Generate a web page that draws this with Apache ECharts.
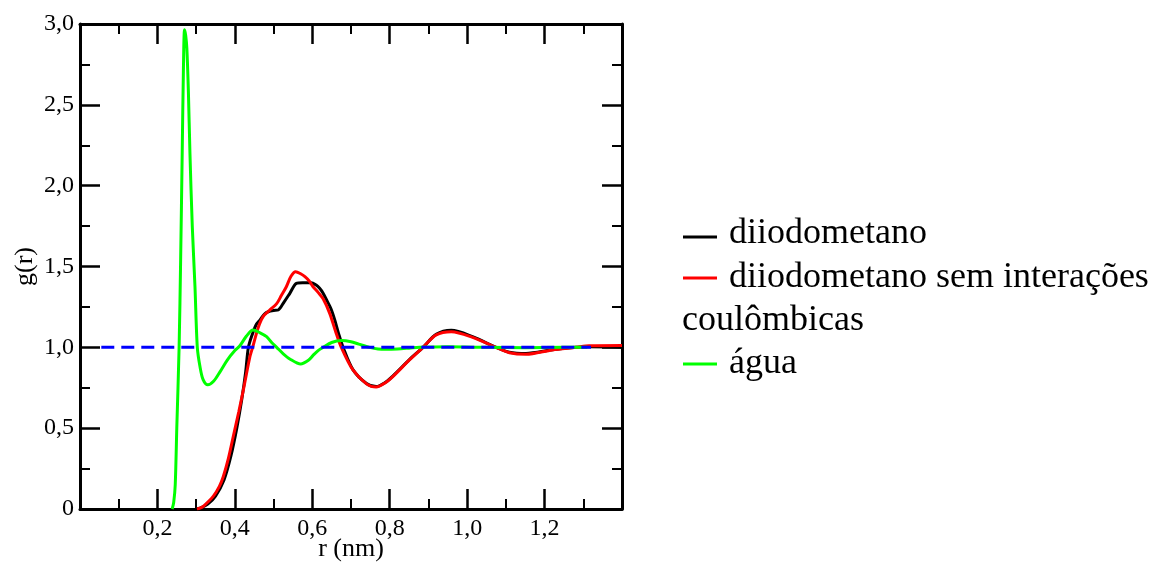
<!DOCTYPE html>
<html>
<head>
<meta charset="utf-8">
<script src="https://cdn.jsdelivr.net/npm/echarts@6/dist/echarts.min.js"></script>
<style>
html,body{margin:0;padding:0;background:#fff;}
#chart{width:1167px;height:565px;}
</style>
</head>
<body>
<div id="chart"></div>
<script>
// ---- data (r in nm, g(r)) ----
const diiodoR = [0.300, 0.310, 0.330, 0.350, 0.372, 0.390, 0.405, 0.418, 0.428, 0.435, 0.445, 0.455, 0.465, 0.476, 0.486, 0.500, 0.512, 0.527, 0.542, 0.559, 0.575, 0.597, 0.610, 0.619, 0.628, 0.637, 0.648, 0.658, 0.668, 0.679, 0.705, 0.740, 0.765, 0.790, 0.808, 0.851, 0.886, 0.920, 0.959, 1.014, 1.075, 1.109, 1.152, 1.220, 1.281, 1.315, 1.400];
const diiodoG = [0, 0.005, 0.03, 0.08, 0.18, 0.33, 0.50, 0.68, 0.85, 1.00, 1.08, 1.14, 1.17, 1.205, 1.22, 1.228, 1.231, 1.28, 1.334, 1.396, 1.40, 1.40, 1.385, 1.365, 1.335, 1.293, 1.24, 1.17, 1.085, 1.004, 0.862, 0.776, 0.757, 0.785, 0.822, 0.924, 1.00, 1.08, 1.105, 1.066, 1.00, 0.970, 0.962, 0.985, 1.00, 1.003, 1.000];

const noCoulR = [0.302, 0.310, 0.320, 0.344, 0.360, 0.370, 0.383, 0.396, 0.410, 0.422, 0.439, 0.446, 0.460, 0.473, 0.490, 0.508, 0.520, 0.533, 0.545, 0.557, 0.570, 0.581, 0.592, 0.602, 0.615, 0.628, 0.645, 0.660, 0.675, 0.705, 0.740, 0.765, 0.790, 0.808, 0.851, 0.886, 0.920, 0.959, 1.014, 1.075, 1.109, 1.152, 1.220, 1.281, 1.315, 1.400];
const noCoulG = [0, 0.005, 0.02, 0.078, 0.14, 0.20, 0.31, 0.45, 0.60, 0.737, 0.943, 1.00, 1.12, 1.19, 1.23, 1.27, 1.32, 1.375, 1.44, 1.468, 1.455, 1.437, 1.41, 1.375, 1.34, 1.30, 1.21, 1.10, 1.00, 0.860, 0.774, 0.754, 0.783, 0.819, 0.922, 1.00, 1.077, 1.097, 1.062, 1.00, 0.967, 0.957, 0.984, 1.00, 1.010, 1.012];

const waterR = [0.238, 0.242, 0.246, 0.250, 0.256, 0.260, 0.264, 0.267, 0.270, 0.273, 0.276, 0.280, 0.284, 0.290, 0.297, 0.303, 0.310, 0.318, 0.330, 0.345, 0.362, 0.380, 0.400, 0.413, 0.430, 0.447, 0.465, 0.482, 0.495, 0.508, 0.525, 0.542, 0.570, 0.590, 0.602, 0.615, 0.628, 0.650, 0.675, 0.700, 0.720, 0.748, 0.770, 0.791, 0.820, 0.850, 0.877, 0.950, 1.050, 1.150, 1.250, 1.310];
const waterG = [0, 0.04, 0.15, 0.50, 1.00, 1.55, 2.20, 2.70, 2.965, 2.93, 2.85, 2.58, 2.20, 1.75, 1.375, 1.00, 0.88, 0.80, 0.768, 0.79, 0.85, 0.92, 0.98, 1.01, 1.07, 1.107, 1.09, 1.066, 1.03, 1.00, 0.96, 0.928, 0.897, 0.92, 0.95, 0.98, 1.00, 1.03, 1.042, 1.035, 1.02, 1.00, 0.99, 0.988, 0.99, 0.995, 1.00, 1.003, 1.00, 0.998, 1.00, 1.00];

const refR = [0.055, 1.32];
const refG = [1, 1];

const legendNames = ['diiodometano', 'diiodometano sem interações', 'coulômbicas', 'água'];
const xTickLabels = ['', '0,2', '0,4', '0,6', '0,8', '1,0', '1,2', ''];
const yTickLabels = ['0', '0,5', '1,0', '1,5', '2,0', '2,5', '3,0'];

function zip(a, b) { return a.map((v, i) => [v, b[i]]); }

const FONT = 'Liberation Serif';
const chart = echarts.init(document.getElementById('chart'), null, {renderer: 'canvas'});

function frameAxis(extra) {
  return Object.assign({
    type: 'value',
    axisLine: {show: true, onZero: false, lineStyle: {color: '#000', width: 3}},
    axisTick: {show: true, inside: true, length: 20, lineStyle: {color: '#000', width: 2.5}},
    minorTick: {show: true, splitNumber: 2, length: 10, lineStyle: {color: '#000', width: 2}},
    splitLine: {show: false},
    minorSplitLine: {show: false}
  }, extra);
}

const xCommon = {min: 0, max: 1.4, interval: 0.2};
const yCommon = {min: 0, max: 3, interval: 0.5};

chart.setOption({
  backgroundColor: '#fff',
  animation: false,
  grid: {left: 80, right: 545, top: 24, bottom: 56, containLabel: false, outerBoundsMode: 'none'},
  xAxis: [
    frameAxis(Object.assign({}, xCommon, {
      position: 'bottom',
      name: 'r (nm)', nameLocation: 'middle', nameGap: 27, nameMoveOverlap: false,
      nameTextStyle: {fontFamily: FONT, fontSize: 26, color: '#000'},
      axisLabel: {show: true, margin: 8, fontFamily: FONT, fontSize: 24, color: '#000',
        formatter: function (v) { return xTickLabels[Math.round(v / 0.2)]; }}
    })),
    frameAxis(Object.assign({}, xCommon, {position: 'top', axisLabel: {show: false}}))
  ],
  yAxis: [
    frameAxis(Object.assign({}, yCommon, {
      position: 'left',
      name: 'g(r)', nameLocation: 'middle', nameGap: 42, nameRotate: 90,
      nameTextStyle: {fontFamily: FONT, fontSize: 26, color: '#000'},
      axisLabel: {show: true, margin: 6, fontFamily: FONT, fontSize: 24, color: '#000',
        formatter: function (v) { return yTickLabels[Math.round(v / 0.5)]; }}
    })),
    frameAxis(Object.assign({}, yCommon, {position: 'right', axisLabel: {show: false}}))
  ],
  series: [
    {name: legendNames[0], type: 'line', showSymbol: false, smooth: 0.3, clip: true,
     data: zip(diiodoR, diiodoG), lineStyle: {color: '#000000', width: 3}},
    {name: legendNames[1], type: 'line', showSymbol: false, smooth: 0.3, clip: true,
     data: zip(noCoulR, noCoulG), lineStyle: {color: '#ff0000', width: 3}},
    {name: legendNames[3], type: 'line', showSymbol: false, smooth: 0.3, clip: true,
     data: zip(waterR, waterG), lineStyle: {color: '#00ff00', width: 3}},
    {name: 'ref', type: 'line', showSymbol: false, clip: true,
     data: zip(refR, refG), lineStyle: {color: '#0000ff', width: 3, type: [13, 7]}}
  ],
  graphic: [
    {type: 'line', shape: {x1: 683, y1: 237, x2: 717, y2: 237}, style: {stroke: '#000000', lineWidth: 3}},
    {type: 'line', shape: {x1: 683, y1: 278, x2: 717, y2: 278}, style: {stroke: '#ff0000', lineWidth: 3}},
    {type: 'line', shape: {x1: 683, y1: 364, x2: 717, y2: 364}, style: {stroke: '#00ff00', lineWidth: 3}},
    {type: 'text', left: 729, top: 216, style: {text: legendNames[0], fontSize: 36, fontFamily: FONT, fill: '#000'}},
    {type: 'text', left: 729, top: 260, style: {text: legendNames[1], fontSize: 36, fontFamily: FONT, fill: '#000'}},
    {type: 'text', left: 682, top: 303, style: {text: legendNames[2], fontSize: 36, fontFamily: FONT, fill: '#000'}},
    {type: 'text', left: 729, top: 346, style: {text: legendNames[3], fontSize: 36, fontFamily: FONT, fill: '#000'}}
  ]
});
</script>
</body>
</html>
